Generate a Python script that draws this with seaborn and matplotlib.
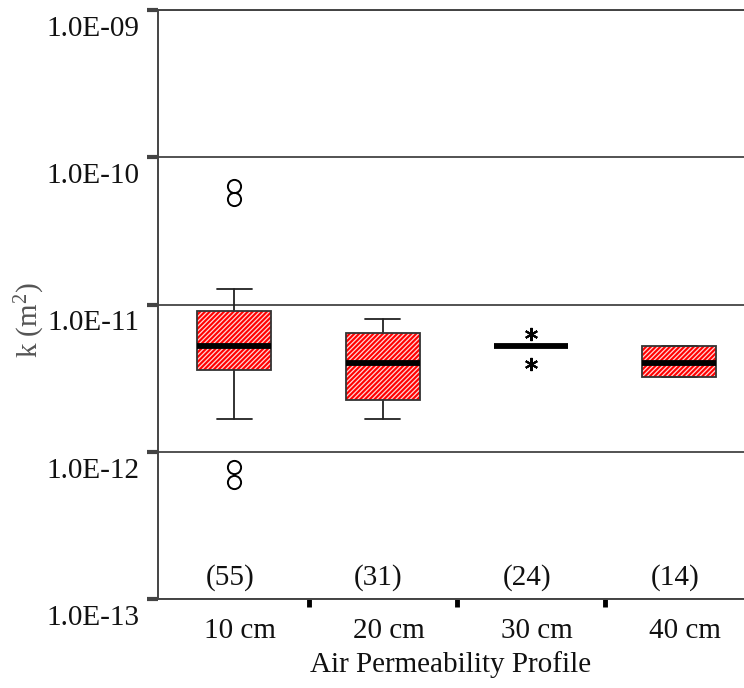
import matplotlib
matplotlib.use("Agg")
import matplotlib.pyplot as plt
import seaborn as sns
from matplotlib import transforms
from matplotlib.patches import PathPatch
from matplotlib.ticker import FixedLocator, NullLocator

# ---------------- data ----------------
categories = ["10 cm", "20 cm", "30 cm", "40 cm"]
counts = [55, 31, 24, 14]
whisker_low = [1.66e-12, 1.66e-12, 5.2e-12, 3.22e-12]
q1 = [3.59e-12, 2.26e-12, 5.2e-12, 3.22e-12]
median = [5.23e-12, 4.03e-12, 5.2e-12, 4.03e-12]
q3 = [8.99e-12, 6.45e-12, 5.2e-12, 5.2e-12]
whisker_high = [1.27e-11, 8.02e-12, 5.2e-12, 5.2e-12]
outliers = [[6.34e-11, 5.23e-11, 7.9e-13, 6.25e-13], [], [], []]
extremes = [[], [], [6.35e-12, 3.97e-12], []]
ytick_values = [1e-13, 1e-12, 1e-11, 1e-10, 1e-9]
ytick_labels = ["1.0E-13", "1.0E-12", "1.0E-11", "1.0E-10", "1.0E-09"]

# ---------------- style ----------------
sns.set_style("white")
plt.rcParams["font.family"] = ["Liberation Serif", "DejaVu Serif"]
plt.rcParams["mathtext.fontset"] = "custom"
plt.rcParams["mathtext.rm"] = "Liberation Serif"
plt.rcParams["mathtext.it"] = "Liberation Serif:italic"
plt.rcParams["mathtext.default"] = "regular"
plt.rcParams["hatch.linewidth"] = 0.9

FS = 21
fig = plt.figure(figsize=(7.44, 6.88), dpi=100)
ax = fig.add_axes([158 / 744, 1 - 599 / 688, 1 - 158 / 744, (599 - 10) / 688])

stats = []
for i, c in enumerate(categories):
    stats.append(dict(label=c, whislo=whisker_low[i], q1=q1[i], med=median[i],
                      q3=q3[i], whishi=whisker_high[i], fliers=outliers[i]))

res = ax.bxp(stats, positions=range(len(categories)), widths=0.5, capwidths=0.236,
             patch_artist=True, showfliers=True,
             boxprops=dict(facecolor="#ff0000", edgecolor="#ffd6d6", linewidth=0,
                           hatch="///////"),
             medianprops=dict(color="black", linewidth=4.2, solid_capstyle="butt"),
             whiskerprops=dict(color="#222222", linewidth=1.3),
             capprops=dict(color="#222222", linewidth=1.3),
             flierprops=dict(marker="o", markerfacecolor="none", markeredgecolor="black",
                             markersize=9.5, markeredgewidth=1.4),
             zorder=3)
for box in res["boxes"]:
    ax.add_patch(PathPatch(box.get_path(), transform=box.get_transform(), fill=False,
                           edgecolor="#333333", linewidth=1.3, zorder=3.5))
for line in res["medians"]:
    line.set_zorder(4)

for i, vals in enumerate(extremes):
    if vals:
        ax.plot([i] * len(vals), vals, ls="none", marker=(6, 2, 0), markersize=9.5,
                markeredgecolor="black", markeredgewidth=1.5, zorder=4)

# count labels
blend = transforms.blended_transform_factory(ax.transData, ax.transAxes)
for i, n in enumerate(counts):
    ax.text(i - 0.03, 21 / 589, f"({n})", transform=blend, ha="center", va="center",
            fontsize=FS, color="#111111")

# axes
ax.set_yscale("log")
ax.set_ylim(1e-13, 1e-9)
ax.set_xlim(-0.515, 3.436)
ax.yaxis.set_major_locator(FixedLocator(ytick_values))
ax.yaxis.set_minor_locator(NullLocator())
ax.set_yticks(ytick_values)
ax.set_yticklabels(ytick_labels, fontsize=FS, color="#111111")
ax.set_xticks(range(len(categories)))
ax.set_xticklabels(categories, fontsize=FS, color="#111111")
ax.set_xticks([0.5, 1.5, 2.5], minor=True)
ax.tick_params(axis="y", which="major", direction="out", length=8, width=3,
               color="#444444", pad=5.4, left=True)
ax.tick_params(axis="x", which="major", length=0, pad=14)
ax.tick_params(axis="x", which="minor", direction="out", length=6, width=3.5,
               color="black", bottom=True)

ax.yaxis.grid(True, which="major", color="#444444", linewidth=1.3)
ax.xaxis.grid(False)
ax.set_axisbelow(True)
for side in ["left", "bottom", "top"]:
    ax.spines[side].set_visible(True)
    ax.spines[side].set_color("#444444")
    ax.spines[side].set_linewidth(1.4)
ax.spines["right"].set_visible(False)

ax.set_xlabel("Air Permeability Profile", fontsize=FS, color="#111111", labelpad=4.4)
ax.set_ylabel("k (m$^{2}$)", fontsize=FS, color="#555555", va="center")
ax.yaxis.set_label_coords((30 - 158) / 586, (599 - 320) / 589)

# tick label offsets as in the reference
ydown = transforms.ScaledTranslation(0, -16 / 100, fig.dpi_scale_trans)
for lab in ax.get_yticklabels():
    lab.set_transform(lab.get_transform() + ydown)
xright = transforms.ScaledTranslation(6 / 100, 0, fig.dpi_scale_trans)
for lab in ax.get_xticklabels():
    lab.set_transform(lab.get_transform() + xright)

fig.savefig("out.png", dpi=100)
